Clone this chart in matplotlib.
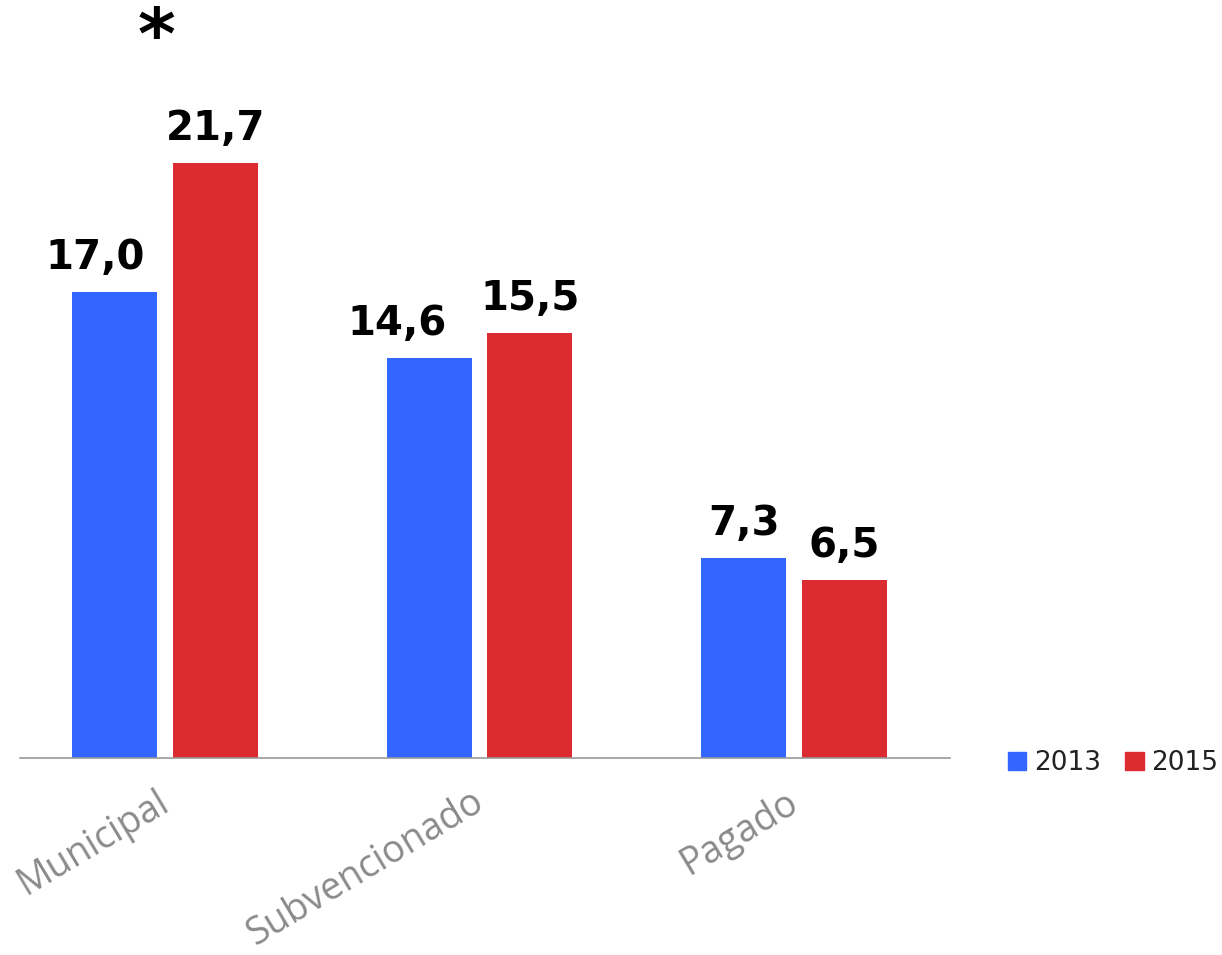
import matplotlib
matplotlib.use("Agg")
import matplotlib.pyplot as plt
import matplotlib.patches as mpatches
import matplotlib.transforms as mtransforms
import numpy as np

categories = ["Municipal", "Subvencionado", "Pagado"]
years = ["2013", "2015"]
values_2013 = [17.0, 14.6, 7.3]
values_2015 = [21.7, 15.5, 6.5]
labels_2013 = ["17,0", "14,6", "7,3"]
labels_2015 = ["21,7", "15,5", "6,5"]

blue = "#3366ff"
red = "#dc2c32"

fig = plt.figure(figsize=(12.22, 9.55), dpi=100)
ax = fig.add_axes([20 / 1222, (955 - 758) / 955, 930 / 1222, 758 / 955])

x = np.arange(len(categories))
w = 0.27
off = 0.16
b1 = ax.bar(x - off, values_2013, w, color=blue)
b2 = ax.bar(x + off, values_2015, w, color=red)

ax.set_xlim(-0.461, 2.496)
ax.set_ylim(0, 27.66)

# value labels (2013 ones nudged left a bit like the original)
dx_2013 = [-14, -23, 0]
for i, (bar, lab) in enumerate(zip(b1, labels_2013)):
    ax.annotate(lab, (bar.get_x() + bar.get_width() / 2, bar.get_height()),
                xytext=(dx_2013[i], 16.5), textcoords="offset points",
                ha="center", va="baseline", fontsize=29, fontweight="bold")
for bar, lab in zip(b2, labels_2015):
    ax.annotate(lab, (bar.get_x() + bar.get_width() / 2, bar.get_height()),
                xytext=(0, 16.5), textcoords="offset points",
                ha="center", va="baseline", fontsize=29, fontweight="bold")

# significance mark over Municipal
ax.annotate("*", (x[0], values_2015[0]), xytext=(-6, 75), textcoords="offset points",
            ha="center", va="baseline", fontsize=52, fontweight="bold")

for s in ["top", "right", "left"]:
    ax.spines[s].set_visible(False)
ax.spines["bottom"].set_color("#999999")
ax.spines["bottom"].set_linewidth(1.2)
ax.set_yticks([])
ax.set_xticks(x)
ax.set_xticklabels(categories, fontsize=27, color="#8a8a8a", family="Open Sans")
ax.tick_params(axis="x", length=0, pad=18)
shift = mtransforms.ScaledTranslation(-9 / 100, 0, fig.dpi_scale_trans)
for t in ax.get_xticklabels():
    t.set_rotation(31)
    t.set_ha("right")
    t.set_rotation_mode("anchor")
    t.set_transform(t.get_transform() + shift)

handles = [mpatches.Patch(color=blue, label=years[0]),
           mpatches.Patch(color=red, label=years[1])]
fig.legend(handles=handles, loc="center left", bbox_to_anchor=(1008 / 1222, (955 - 763) / 955),
           ncol=2, frameon=False, fontsize=19, handlelength=0.7, handleheight=0.7,
           handletextpad=0.3, columnspacing=0.9, borderaxespad=0, borderpad=0,
           labelcolor="#222222")

fig.savefig("out.png", dpi=100)
